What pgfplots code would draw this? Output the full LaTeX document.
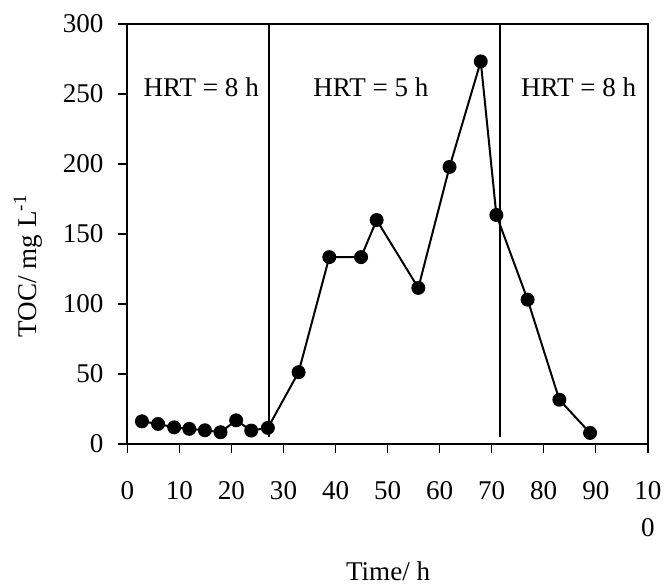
\documentclass[border=0pt]{standalone}
\usepackage{fontspec}
\setmainfont{Liberation Serif}
\usepackage{pgfplots}
\pgfplotsset{compat=1.18}
\begin{document}
\begin{tikzpicture}[font=\fontsize{13.6}{18.5}\selectfont]
\begin{axis}[
  scale only axis,
  width=261.5pt, height=211pt,
  xmin=0, xmax=100, ymin=0, ymax=300,
  xtick={0,10,...,100},
  xticklabels={0,10,20,30,40,50,60,70,80,90,{10\\0}},
  ytick={0,50,...,300},
  axis x line*=bottom, axis y line*=left,
  axis line style={line width=1.1pt},
  every outer x axis line/.append style={-},
  every outer y axis line/.append style={-},
  tick align=outside,
  major tick length=4.5pt,
  tick style={line width=0.7pt, black},
  /pgf/number format/assume math mode=true,
  tick label style={font=\fontsize{13.6}{18.5}\selectfont},
  xticklabel style={align=center, anchor=north, yshift=-11pt},
  yticklabel style={xshift=-4pt},
  clip=false,
]
% top and right frame
\draw[line width=1.1pt] (rel axis cs:0,1) -- (rel axis cs:1,1) -- (rel axis cs:1,0);
% bounding box matching reference canvas
\path (rel axis cs:-0.2447,-0.3318) rectangle (rel axis cs:1.0325,1.0569);
\addplot[black, line width=1pt, forget plot] coordinates {(27.2,5) (27.2,300)};
\addplot[black, line width=1pt, forget plot] coordinates {(71.6,5) (71.6,300)};
\addplot[black, line width=1pt, mark=*, mark size=3pt, mark options={solid, fill=black}] coordinates {
(2.8,16.1) (5.9,14.2) (9.0,11.8) (11.9,10.7) (14.9,9.7) (17.9,8.3) (20.9,16.8) (23.8,9.5) (27.0,11.4)
(32.9,51.2) (38.8,133.4) (44.9,133.4) (47.9,159.9) (55.9,111.4) (61.9,197.8) (67.9,273.2)
(70.9,163.5) (76.9,103) (83.0,31.5) (88.9,7.8)
};
\node at (axis cs:14.2,255) {HRT = 8 h};
\node at (axis cs:46.8,255) {HRT = 5 h};
\node at (axis cs:86.7,255) {HRT = 8 h};
\node[rotate=90] at (rel axis cs:-0.191,0.424) {TOC/ mg L\textsuperscript{-1}};
\node at (rel axis cs:0.501,-0.303) {Time/ h};
\end{axis}
\end{tikzpicture}
\end{document}
